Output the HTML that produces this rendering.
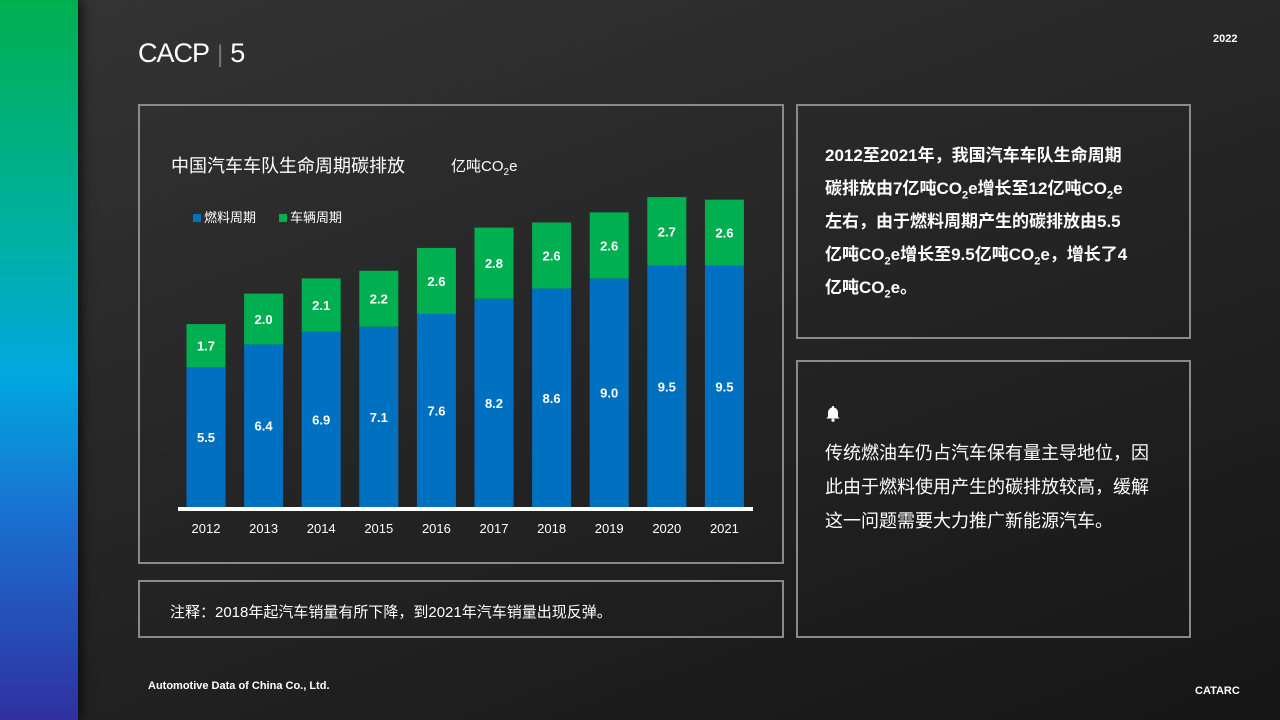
<!DOCTYPE html>
<html><head><meta charset="utf-8">
<style>
*{margin:0;padding:0;box-sizing:border-box}
body{width:1280px;height:720px;overflow:hidden;position:relative;font-family:"Liberation Sans","Noto Sans CJK SC",sans-serif;color:#fff;
background:linear-gradient(160deg,#343434 0%,#262626 45%,#161616 100%)}
.strip{position:absolute;left:0;top:0;width:78px;height:720px;background:linear-gradient(180deg,#00b050 0%,#00b0a8 35%,#00a8e0 52%,#1a6fd0 72%,#3030a0 100%);box-shadow:4px 0 10px rgba(0,0,0,.6)}
.box{position:absolute;border:2px solid #8a8a8a}
.t{position:absolute;white-space:nowrap}
sub{line-height:0;font-size:11px}
</style></head><body>
<div class="strip"></div>
<div class="t" style="left:138px;top:38px;font-size:27px;font-weight:300;letter-spacing:-1px;">CACP<span style="color:#777;margin:0 8px;font-size:24px">|</span><span style="font-weight:100">5</span></div>
<div class="t" style="left:1213px;top:33px;font-size:11px;font-weight:bold">2022</div>
<div class="box" style="left:138px;top:104px;width:646px;height:460px"></div>
<div class="box" style="left:138px;top:580px;width:646px;height:58px"></div>
<div class="box" style="left:796px;top:104px;width:395px;height:235px"></div>
<div class="box" style="left:796px;top:360px;width:395px;height:278px"></div>
<div class="t" style="left:171px;top:152px;font-size:18px">中国汽车车队生命周期碳排放</div>
<div class="t" style="left:451px;top:155px;font-size:15px">亿吨CO<sub style="font-size:10px">2</sub>e</div>
<div class="t" style="left:193px;top:207px;font-size:13px"><span style="display:inline-block;width:8px;height:8px;background:#0070c0;margin-right:3px"></span>燃料周期</div>
<div class="t" style="left:279px;top:207px;font-size:13px"><span style="display:inline-block;width:8px;height:8px;background:#00b050;margin-right:3px"></span>车辆周期</div>
<svg id="chart" style="position:absolute;left:0;top:0" width="1280" height="720"></svg>
<div class="t" style="left:170px;top:601px;font-size:15px">注释：2018年起汽车销量有所下降，到2021年汽车销量出现反弹。</div>
<div class="t" style="left:825px;top:139px;font-size:17px;font-weight:bold;line-height:33px">2012至2021年，我国汽车车队生命周期<br>碳排放由7亿吨CO<sub>2</sub>e增长至12亿吨CO<sub>2</sub>e<br>左右，由于燃料周期产生的碳排放由5.5<br>亿吨CO<sub>2</sub>e增长至9.5亿吨CO<sub>2</sub>e，增长了4<br>亿吨CO<sub>2</sub>e。</div>
<svg style="position:absolute;left:825px;top:405px" width="16" height="17" viewBox="0 0 16 17"><path d="M8 1a1.2 1.2 0 0 1 1.2 1.2v.4A5 5 0 0 1 13 7.5v4l1.5 2H1.5L3 11.5v-4a5 5 0 0 1 3.8-4.9v-.4A1.2 1.2 0 0 1 8 1z" fill="#fff"/><circle cx="8" cy="15.2" r="1.6" fill="#fff"/></svg>
<div class="t" style="left:825px;top:436px;font-size:18px;line-height:34px">传统燃油车仍占汽车保有量主导地位，因<br>此由于燃料使用产生的碳排放较高，缓解<br>这一问题需要大力推广新能源汽车。</div>
<div class="t" style="left:148px;top:680px;font-size:11px;font-weight:bold">Automotive Data of China Co., Ltd.</div>
<div class="t" style="left:1195px;top:685px;font-size:11px;font-weight:bold">CATARC</div>
<script>
const years=["2012","2013","2014","2015","2016","2017","2018","2019","2020","2021"];
const fuel=[5.5,6.4,6.9,7.1,7.6,8.2,8.6,9.0,9.5,9.5];
const vehicle=[1.7,2.0,2.1,2.2,2.6,2.8,2.6,2.6,2.7,2.6];
const svg=document.getElementById('chart');const NS='http://www.w3.org/2000/svg';
const base=507,scale=25.4,x0=206,step=57.6,bw=39;
const y=v=>base-v*scale;const xc=i=>x0+i*step;
function mk(t,a){const e=document.createElementNS(NS,t);for(const k in a)e.setAttribute(k,a[k]);svg.appendChild(e);return e;}
years.forEach((yr,i)=>{
 let r=mk('rect',{x:xc(i)-bw/2,y:y(fuel[i]),width:bw,height:fuel[i]*scale,fill:'#0070c0'});
 
 
 let g=mk('rect',{x:xc(i)-bw/2,y:y(fuel[i]+vehicle[i]),width:bw,height:vehicle[i]*scale,fill:'#00b050'});
 
 
 let t1=mk('text',{x:xc(i),y:(y(fuel[i])+base)/2+5,fill:'#fff','font-size':13,'font-weight':'bold','text-anchor':'middle'});t1.textContent=fuel[i].toFixed(1);
 
 
 let t2=mk('text',{x:xc(i),y:(y(fuel[i])+y(fuel[i]+vehicle[i]))/2+5,fill:'#fff','font-size':13,'font-weight':'bold','text-anchor':'middle'});t2.textContent=vehicle[i].toFixed(1);
 
 
 let tx=mk('text',{x:xc(i),y:533,fill:'#fff','font-size':13,'text-anchor':'middle'});tx.textContent=yr;
 
 
});
let ax=mk('rect',{x:178,y:507,width:575,height:4,fill:'#fff'});


</script>
</body></html>
